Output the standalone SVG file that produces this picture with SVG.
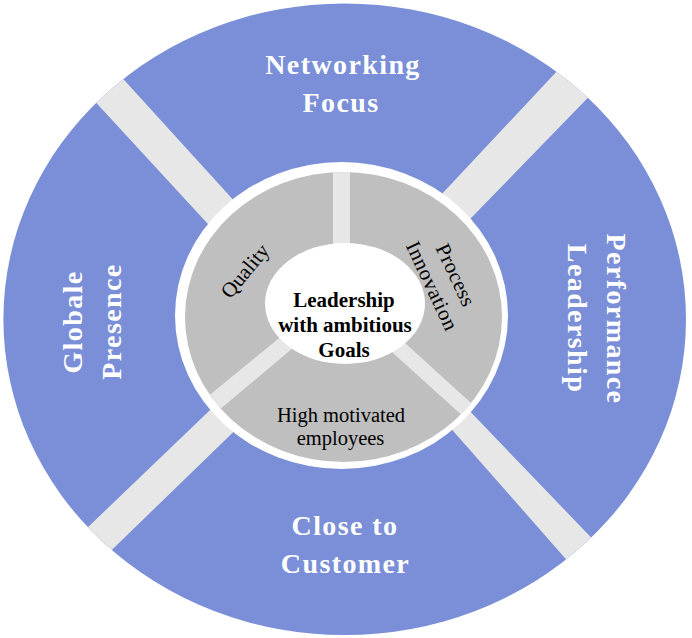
<svg xmlns="http://www.w3.org/2000/svg" width="692" height="638" viewBox="0 0 692 638">
  <style>
    .outer { fill: #7a8fd7; }
    .band { fill: #e7e7e7; }
    .ringgap { fill: #ffffff; }
    .inner { fill: #bfbfbf; }
    .core { fill: #ffffff; }
    .big { font-family: "Liberation Serif", "Times New Roman", serif; font-size: 28px; font-weight: bold; fill: #ffffff; text-anchor: middle; letter-spacing: 1.4px; }
    .small { font-family: "Liberation Serif", "Times New Roman", serif; font-size: 21px; fill: #000000; text-anchor: middle; }
    .center { font-family: "Liberation Serif", "Times New Roman", serif; font-size: 21px; font-weight: bold; fill: #000000; text-anchor: middle; }
  </style>
  <defs>
    <clipPath id="clipOuter">
      <ellipse cx="344.7" cy="319.25" rx="341.3" ry="315.75"/>
    </clipPath>
    <clipPath id="clipInner">
      <ellipse cx="343.5" cy="317" rx="158.5" ry="145"/>
    </clipPath>
  </defs>

  <g id="outer-ring">
    <ellipse class="outer" cx="344.7" cy="319.25" rx="341.3" ry="315.75"/>
  </g>

  <g id="connectors" clip-path="url(#clipOuter)">
    <polygon class="band" points="79.8,84.9 106.4,60.6 250.2,218.4 225.9,243.4"/>
    <polygon class="band" points="574.9,51.9 605.9,79.2 456.5,233.1 428.8,208.1"/>
    <polygon class="band" points="455.8,396.6 609.6,556.7 582.9,578.4 439.1,414.9"/>
    <polygon class="band" points="224.7,395.9 247.3,418.6 93.7,567.4 70.3,544.1"/>
  </g>

  <g id="inner-ring">
    <ellipse class="ringgap" cx="341.5" cy="315.5" rx="166.5" ry="153.5"/>
    <ellipse class="inner" cx="343.5" cy="317" rx="158.5" ry="145"/>
    <g clip-path="url(#clipInner)">
      <rect class="band" x="333" y="160" width="17" height="100"/>
      <polygon class="band" points="196.2,406 282.2,335.6 293.8,347.3 207.8,419.4"/>
      <polygon class="band" points="397.8,336.6 488.1,418.4 476.5,428.4 387.8,348.2"/>
    </g>
  </g>

  <g id="networking-focus">
    <text class="big" x="343" y="74">Networking</text>
    <text class="big" x="341" y="112">Focus</text>
  </g>

  <g id="performance-leadership">
    <text class="big" transform="translate(607,319) rotate(90)" x="0" y="0">Performance</text>
    <text class="big" transform="translate(568,318.5) rotate(90)" x="0" y="0">Leadership</text>
  </g>

  <g id="close-to-customer">
    <text class="big" x="345" y="535">Close to</text>
    <text class="big" x="345.5" y="573">Customer</text>
  </g>

  <g id="globale-presence">
    <text class="big" transform="translate(82,322) rotate(-90)" x="0" y="0">Globale</text>
    <text class="big" transform="translate(121,321.5) rotate(-90)" x="0" y="0">Presence</text>
  </g>

  <g id="quality">
    <text class="small" transform="translate(245.7,271.7) rotate(-50.5)" x="0" y="6">Quality</text>
  </g>

  <g id="process-innovation">
    <g transform="translate(443,281) rotate(65)">
      <text class="small" x="0" y="-7" letter-spacing="0.4">Process</text>
      <text class="small" x="0" y="19" letter-spacing="0.5">Innovation</text>
    </g>
  </g>

  <g id="high-motivated-employees">
    <text class="small" style="font-size:20.5px" x="341" y="422">High motivated</text>
    <text class="small" style="font-size:20.5px" x="340.5" y="445">employees</text>
  </g>

  <g id="center-leadership">
    <ellipse class="core" cx="345" cy="303.5" rx="80" ry="60.5"/>
    <text class="center" x="344" y="307">Leadership</text>
    <text class="center" x="345" y="332">with ambitious</text>
    <text class="center" x="344" y="357">Goals</text>
  </g>
</svg>
